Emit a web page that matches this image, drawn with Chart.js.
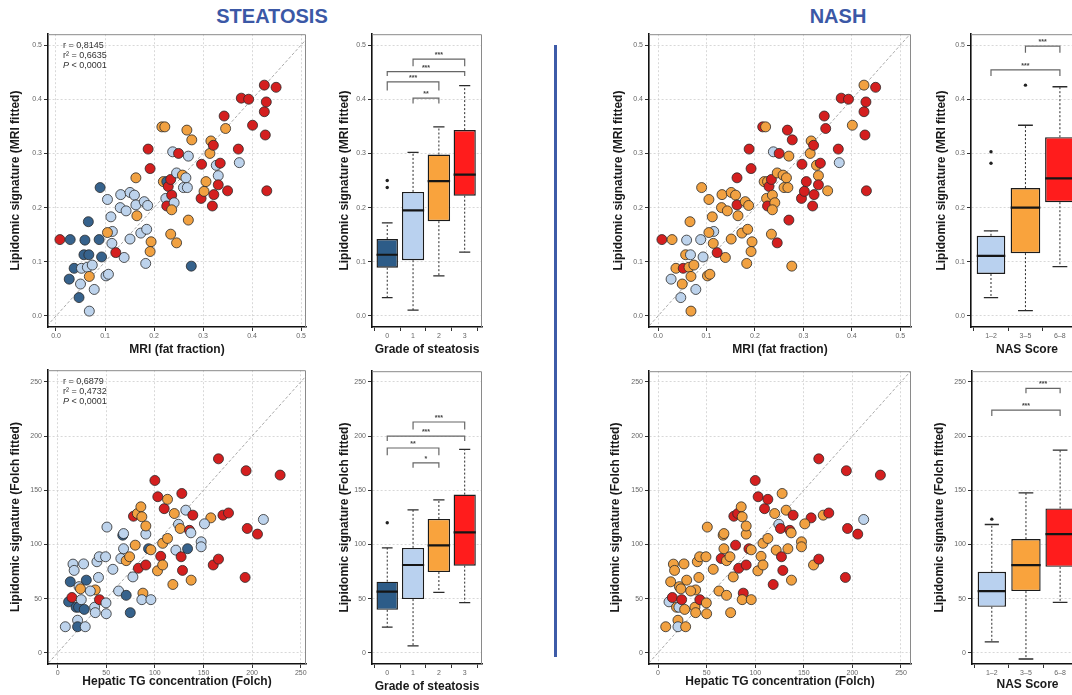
<!DOCTYPE html>
<html><head><meta charset="utf-8">
<script src="https://cdn.jsdelivr.net/npm/chart.js@4/dist/chart.umd.min.js"></script>
<style>
html,body{margin:0;padding:0;background:#fff;width:1072px;height:695px;overflow:hidden;position:relative;font-family:"Liberation Sans",Arial,sans-serif}
canvas{position:absolute}
.ttl{position:absolute;top:5px;font:bold 20px "Liberation Sans Narrow","Liberation Sans",Arial,sans-serif;color:#3b58a6;transform:translateX(-50%);white-space:nowrap}
#divider{position:absolute;left:554px;top:45px;width:2.5px;height:612px;background:#3d5ba8}
</style></head><body>
<div class="ttl" style="left:272px">STEATOSIS</div>
<div class="ttl" style="left:838px">NASH</div>
<div id="divider"></div>
<script>
// ---------- data: MRI fat fraction vs lipidomic signature ----------
const mriX=[0.008,0.029,0.059,0.088,0.066,0.090,0.057,0.067,0.093,0.037, 0.027,0.047,0.052,0.064,0.074,0.068,0.050,0.078,0.068,0.102, 0.107,0.139,0.122,0.114,0.115,0.105,0.112,0.105,0.131,0.143, 0.132,0.151,0.160,0.163,0.165,0.163,0.151,0.173,0.185,0.180, 0.187,0.183,0.194,0.192,0.188,0.192,0.216,0.222,0.219,0.226, 0.229,0.224,0.226,0.236,0.241,0.236,0.234,0.246,0.234,0.238, 0.250,0.246,0.258,0.265,0.260,0.268,0.267,0.277,0.270,0.270, 0.276,0.297,0.296,0.302,0.306,0.314,0.316,0.321,0.319,0.322, 0.327,0.331,0.331,0.335,0.343,0.346,0.350,0.372,0.374,0.378, 0.393,0.401,0.425,0.425,0.449,0.429,0.427,0.430];
const mriY=[0.141,0.141,0.140,0.141,0.174,0.237,0.113,0.113,0.109,0.088, 0.068,0.034,0.088,0.090,0.094,0.073,0.059,0.049,0.009,0.074, 0.077,0.108,0.117,0.134,0.156,0.154,0.183,0.215,0.200,0.194, 0.224,0.228,0.223,0.205,0.185,0.255,0.142,0.153,0.160,0.211, 0.204,0.097,0.137,0.119,0.308,0.272,0.349,0.349,0.248,0.248, 0.239,0.217,0.203,0.223,0.209,0.196,0.151,0.135,0.252,0.303, 0.300,0.264,0.260,0.255,0.237,0.237,0.343,0.325,0.295,0.177, 0.092,0.280,0.217,0.230,0.248,0.300,0.323,0.315,0.203,0.224, 0.278,0.259,0.242,0.282,0.369,0.346,0.231,0.308,0.283,0.402, 0.400,0.352,0.377,0.426,0.422,0.395,0.334,0.231];
const mriGrade=[3,0,0,0,0,0,0,0,0,0, 0,0,1,1,1,2,1,1,1,1, 1,1,3,1,1,2,1,1,1,1, 1,1,1,1,2,2,1,1,1,1, 1,1,2,2,3,3,2,2,2,0, 3,1,3,3,1,2,2,2,3,1, 3,1,2,1,1,1,2,2,1,2, 0,3,3,2,2,2,2,3,3,3, 1,1,3,3,3,2,3,3,1,3, 3,3,3,3,3,3,3,3];
const mriNas=[2,1,0,0,1,1,1,0,0,1, 0,0,2,1,1,1,1,0,1,1, 1,1,2,1,0,1,1,1,1,1, 1,1,1,2,1,2,1,1,1,1, 1,1,1,1,2,2,2,1,1,1, 2,1,2,1,1,1,1,2,2,0, 2,1,1,1,1,1,2,2,1,2, 1,2,2,2,2,1,1,2,2,2, 1,1,2,2,2,2,1,2,0,2, 2,1,2,1,2,2,2,2];

// ---------- data: hepatic TG (Folch) vs lipidomic signature ----------
const tgX=[7.9,11.3,13,15.8,17,14.7,19,21.5,20.5,20.5, 22,23.5,24.3,27.4,26.7,29.5,28.4,38.7,33.6,38, 38.7,43,40.4,42.8,42,49.7,50,49.3,50.7,56.8, 62.7,65,67,67.8,67.8,70.5,70.5,74.7,77.4,74, 78,82,85.6,86.6,90.7,90.7,79.8,83,90.7,87.7, 86.6,95.9,93.5,95.9,100,103,109.6,113,120,108, 113,106,102.7,108,118.5,121.6,124.3,126,127.7,131.8, 127,128.4,135.6,137,139,137.3,133.6,147.6,147.6,157.5, 151,160,165.4,165.4,170,175.7,193.8,195,192.8,205.5, 211.6,228.8];
const tgY=[24,47,65.5,81.8,76,51,42,42,30,24, 61,59,49,40,82,67,24,58,57,42, 37,49,84,88.6,69.5,46,36,88.6,116,77, 57,87,108.5,110,96,85,53,37,70,88.6, 126,128.5,134.7,125.5,109.5,117,99.3,78,81,55, 49,49,96,95,159,144,133,141.6,128.5,101, 105.5,89,75.6,81,63,94.7,118.6,114.7,147,131.6, 88.6,76,113,110.7,127,67,96,102.4,97.8,124.5, 119,81,86.4,179,127,129,168,114.7,69.5,109.5, 123,164];
const tgGrade=[1,0,0,1,1,3,0,0,1,0, 1,2,1,0,1,0,1,2,1,1, 1,3,1,1,1,1,1,1,1,1, 1,1,0,1,1,2,0,0,1,2, 3,2,2,2,1,2,2,3,3,2, 1,1,0,2,3,3,3,2,2,2, 2,3,2,2,2,1,1,2,3,1, 3,3,3,1,3,2,0,1,1,2, 1,3,3,3,3,3,3,3,3,3, 1,3];
const tgNas=[1,0,1,1,1,2,1,0,1,0, 1,1,2,1,1,1,1,1,1,1, 1,2,1,1,1,1,1,1,1,1, 1,2,1,1,1,1,1,1,1,1, 2,2,1,1,1,1,2,2,2,2, 1,1,2,1,2,2,2,2,1,1, 1,1,1,1,2,1,0,2,1,1, 2,2,2,1,2,1,1,1,1,2, 1,1,2,2,1,2,2,2,2,2, 0,2];

const statsMri=['r = 0,8145','r\u00B2 = 0,6635','P < 0,0001'];
const statsTg=['r = 0,6879','r\u00B2 = 0,4732','P < 0,0001'];

// ---------- box plot summaries ----------
const gradeLabels=['0','1','2','3'];
const nasLabels=['1\u20132','3\u20135','6\u20138'];

const stMriQ1=[0.089,0.103,0.175,0.222], stMriMed=[0.113,0.195,0.249,0.261], stMriQ3=[0.142,0.229,0.298,0.343];
const stMriLo=[0.034,0.011,0.074,0.118], stMriHi=[0.172,0.302,0.349,0.425];
const stMriOutX=[0,0], stMriOutY=[0.250,0.237];
const stMriBrFrom=[1,0,0,1], stMriBrTo=[2,2,3,3], stMriBrTop=[0.402,0.432,0.451,0.474], stMriBrDrop=[0.392,0.416,0.443,0.461], stMriBrLab=['**','***','***','***'];

const stTgQ1=[39.6,49.5,74.5,80.4], stTgMed=[56.4,81,99.2,111.2], stTgQ3=[65.6,96.8,123.5,146];
const stTgLo=[23.7,6.3,55.7,46.2], stTgHi=[96.8,131.8,141.2,187.7];
const stTgOutX=[0], stTgOutY=[120];
const stTgBrFrom=[1,0,0,1], stTgBrTo=[2,2,3,3], stTgBrTop=[175.3,189,200,213], stTgBrDrop=[170.7,182.4,195.4,206], stTgBrLab=['*','**','***','***'];

const nasMriQ1=[0.0775,0.116,0.210], nasMriMed=[0.111,0.200,0.254], nasMriQ3=[0.148,0.236,0.330];
const nasMriLo=[0.034,0.010,0.091], nasMriHi=[0.157,0.352,0.423];
const nasMriOutX=[0,0,1], nasMriOutY=[0.303,0.282,0.426];
const nasMriBrFrom=[0,1], nasMriBrTo=[2,2], nasMriBrTop=[0.454,0.498], nasMriBrDrop=[0.443,0.486], nasMriBrLab=['***','***'];

const nasTgQ1=[42.4,56.9,79.3], nasTgMed=[56.9,80.9,109.5], nasTgQ3=[74.7,104.9,133.2];
const nasTgLo=[10.1,-5.8,46.5], nasTgHi=[118.4,147.5,187];
const nasTgOutX=[0], nasTgOutY=[123.3];
const nasTgBrFrom=[0,1], nasTgBrTo=[2,2], nasTgBrTop=[224,244], nasTgBrDrop=[218.5,239.5], nasTgBrLab=['***','***'];

const fracTicks=[0,0.1,0.2,0.3,0.4,0.5];
const tgTicks=[0,50,100,150,200,250];

// ---------- styles ----------
const gradePtColors=['#36628c','#bdd3ec','#f1a141','#d41f1f'];
const nasPtColors=['#bdd3ec','#f1a141','#d41f1f'];
const gradeBoxColors=['#2d5c88','#b9d1ef','#f9a33d','#ff1c1c'];
const nasBoxColors=['#b9d1ef','#f9a33d','#ff1c1c'];
const FONT='"Liberation Sans", Arial, sans-serif';

function scatterSets(xs,ys,groups,colors,dmin,dmax){
  return [
    {type:'scatter',data:xs.map((x,i)=>({x:x,y:ys[i]})),backgroundColor:groups.map(g=>colors[g]),
     borderColor:'#2a2a2a',borderWidth:0.8,pointRadius:5,pointHoverRadius:5,order:0},
    {type:'line',data:[{x:dmin,y:dmin},{x:dmax,y:dmax}],borderColor:'#a0a0a0',borderWidth:0.9,
     borderDash:[3,2],pointRadius:0,order:10}
  ];
}

function boxSets(q1,med,q3,lo,hi,widths,colors,outX,outY,bf,bt,btop,bdrop){
  const sets=[];
  q1.forEach((v,i)=>{
    sets.push({type:'bar',data:[{x:i,y:[q1[i],q3[i]]}],backgroundColor:colors[i],borderColor:'#1c1c1c',
      borderWidth:1.4,borderSkipped:false,grouped:false,barPercentage:widths[i],categoryPercentage:1,order:5});
  });
  const wh=[],caps=[],meds=[],br=[];
  q1.forEach((v,i)=>{
    const hw=widths[i]/2, cw=hw*0.5;
    wh.push({x:i,y:q3[i]},{x:i,y:hi[i]},{x:i,y:null},{x:i,y:q1[i]},{x:i,y:lo[i]},{x:i,y:null});
    caps.push({x:i-cw,y:hi[i]},{x:i+cw,y:hi[i]},{x:i,y:null},{x:i-cw,y:lo[i]},{x:i+cw,y:lo[i]},{x:i,y:null});
    meds.push({x:i-hw,y:med[i]},{x:i+hw,y:med[i]},{x:i,y:null});
  });
  bf.forEach((f,i)=>{
    br.push({x:f,y:bdrop[i]},{x:f,y:btop[i]},{x:bt[i],y:btop[i]},{x:bt[i],y:bdrop[i]},{x:f,y:null});
  });
  const ln=(data,color,w,dash,order)=>({type:'line',data:data,borderColor:color,borderWidth:w,borderDash:dash,
    pointRadius:0,spanGaps:false,fill:false,tension:0,order:order});
  sets.push(ln(wh,'#2a2a2a',1,[2,2],3));
  sets.push(ln(caps,'#2a2a2a',1.3,[],2));
  sets.push(ln(meds,'#151515',2.2,[],1));
  sets.push(ln(br,'#666',1.2,[],0));
  sets.push({type:'scatter',data:outX.map((x,i)=>({x:x,y:outY[i]})),backgroundColor:'#222',borderWidth:0,
    pointRadius:1.7,order:0});
  return sets;
}

function makePanel(p){
  const [al,at,ar,ab]=p.area;
  const cl=p.yT-10, ct=at-6, cr=ar+6, cb=Math.round(p.xT+7.2);
  const cv=document.createElement('canvas');
  cv.width=cr-cl; cv.height=cb-ct;
  cv.style.left=cl+'px'; cv.style.top=ct+'px';
  document.body.appendChild(cv);
  const W=al-cl, H=cb-ab;
  const deco={
    id:'deco',
    beforeDatasetsDraw(chart){
      const a=chart.chartArea,c=chart.ctx;
      c.save();c.strokeStyle='#8a8a8a';c.lineWidth=1;c.beginPath();
      c.moveTo(a.left,a.top+0.5);c.lineTo(a.right-0.5,a.top+0.5);c.lineTo(a.right-0.5,a.bottom);c.stroke();c.restore();
    },
    afterDatasetsDraw(chart){
      const a=chart.chartArea,c=chart.ctx,xs=chart.scales.x,ys=chart.scales.y;
      c.save();
      if(p.stats){
        c.fillStyle='#333';c.textBaseline='middle';c.textAlign='left';
        p.stats.forEach((s,i)=>{
          const y=a.top+11+i*10;let x=a.left+15;
          if(s.charAt(0)==='P'){
            c.font='italic 9px '+FONT;c.fillText('P',x,y);x+=c.measureText('P').width;
            c.font='9px '+FONT;c.fillText(s.slice(1),x,y);
          } else {c.font='9px '+FONT;c.fillText(s,x,y);}
        });
      }
      if(p.br){
        c.fillStyle='#444';c.font='bold 7px '+FONT;c.textAlign='center';c.textBaseline='bottom';
        p.br.lab.forEach((t,i)=>{
          c.fillText(t,xs.getPixelForValue((p.br.from[i]+p.br.to[i])/2),ys.getPixelForValue(p.br.top[i])-0.5);
        });
      }
      c.restore();
    }
  };
  const tickFont={size:7,family:FONT};
  return new Chart(cv,{
    type:p.type,
    data:{datasets:p.datasets},
    options:{
      responsive:false,animation:false,devicePixelRatio:1,
      layout:{padding:{left:0,top:6,right:6,bottom:0}},
      plugins:{legend:{display:false},tooltip:{enabled:false}},
      scales:{
        x:{type:'linear',min:p.xMin,max:p.xMax,offset:false,
          afterFit:s=>{s.height=H;},
          afterBuildTicks:s=>{s.ticks=p.xTicks.map(v=>({value:v}));},
          ticks:{font:tickFont,color:'#666',padding:1,maxRotation:0,autoSkip:false,callback:p.xFmt},
          grid:{display:true,drawOnChartArea:p.gridX,color:'#cfcfcf',lineWidth:0.8,tickLength:4,tickColor:'#333',tickWidth:1},
          border:{display:true,color:'#111',width:1.6,dash:[2,2]},
          title:{display:true,text:p.xTitle,font:{size:12,weight:'bold',family:FONT,lineHeight:1.2},color:'#1a1a1a',padding:0}
        },
        y:{type:'linear',min:p.yMin,max:p.yMax,
          afterFit:s=>{s.width=W;},
          afterBuildTicks:s=>{s.ticks=p.yTicks.map(v=>({value:v}));},
          ticks:{font:tickFont,color:'#666',padding:2,autoSkip:false,callback:p.yFmt},
          grid:{display:true,drawOnChartArea:true,color:'#cfcfcf',lineWidth:0.8,tickLength:4,tickColor:'#333',tickWidth:1},
          border:{display:true,color:'#111',width:1.6,dash:[2,2]},
          title:{display:true,text:p.yTitle,font:{size:12,weight:'bold',family:FONT,lineHeight:1.2},color:'#1a1a1a',padding:{top:2.8,bottom:0}}
        }
      }
    },
    plugins:[deco]
  });
}

const f1=v=>Number(v).toFixed(1), f0=v=>String(v);
const MRI_T='MRI (fat fraction)', MRI_Y='Lipidomic signature (MRI fitted)';
const TG_T='Hepatic TG concentration (Folch)', TG_Y='Lipidomic signature (Folch fitted)';

// STEATOSIS - MRI scatter
makePanel({type:'scatter',area:[48,34,306,327],yT:16,xT:350,xMin:-0.0163,xMax:0.510,yMin:-0.0203,yMax:0.520,
  xTicks:fracTicks,yTicks:fracTicks,xFmt:f1,yFmt:f1,gridX:true,xTitle:MRI_T,yTitle:MRI_Y,stats:statsMri,
  datasets:scatterSets(mriX,mriY,mriGrade,gradePtColors,-0.1,0.6)});
// STEATOSIS - MRI box
makePanel({type:'bar',area:[372,34,482,327],yT:345,xT:350,xMin:-0.59,xMax:3.67,yMin:-0.0203,yMax:0.520,
  xTicks:[0,1,2,3],yTicks:fracTicks,xFmt:v=>gradeLabels[Math.round(v)],yFmt:f1,gridX:false,
  xTitle:'Grade of steatosis',yTitle:MRI_Y,
  br:{from:stMriBrFrom,to:stMriBrTo,top:stMriBrTop,lab:stMriBrLab},
  datasets:boxSets(stMriQ1,stMriMed,stMriQ3,stMriLo,stMriHi,[0.83,0.86,0.87,0.86],gradeBoxColors,stMriOutX,stMriOutY,stMriBrFrom,stMriBrTo,stMriBrTop,stMriBrDrop)});
// STEATOSIS - TG scatter
makePanel({type:'scatter',area:[48,370,306,664],yT:16,xT:682,xMin:-9.9,xMax:255.4,yMin:-10.4,yMax:260.8,
  xTicks:tgTicks,yTicks:tgTicks,xFmt:f0,yFmt:f0,gridX:true,xTitle:TG_T,yTitle:TG_Y,stats:statsTg,
  datasets:scatterSets(tgX,tgY,tgGrade,gradePtColors,-30,300)});
// STEATOSIS - TG box
makePanel({type:'bar',area:[372,371,482,664],yT:345,xT:687,xMin:-0.59,xMax:3.67,yMin:-10.4,yMax:259.9,
  xTicks:[0,1,2,3],yTicks:tgTicks,xFmt:v=>gradeLabels[Math.round(v)],yFmt:f0,gridX:false,
  xTitle:'Grade of steatosis',yTitle:TG_Y,
  br:{from:stTgBrFrom,to:stTgBrTo,top:stTgBrTop,lab:stTgBrLab},
  datasets:boxSets(stTgQ1,stTgMed,stTgQ3,stTgLo,stTgHi,[0.83,0.86,0.87,0.86],gradeBoxColors,stTgOutX,stTgOutY,stTgBrFrom,stTgBrTo,stTgBrTop,stTgBrDrop)});
// NASH - MRI scatter
makePanel({type:'scatter',area:[649,34,911,327],yT:619,xT:350,xMin:-0.0186,xMax:0.522,yMin:-0.0203,yMax:0.520,
  xTicks:fracTicks,yTicks:fracTicks,xFmt:f1,yFmt:f1,gridX:true,xTitle:MRI_T,yTitle:MRI_Y,
  datasets:scatterSets(mriX,mriY,mriNas,nasPtColors,-0.1,0.6)});
// NASH - MRI box
makePanel({type:'bar',area:[971,34,1083,327],yT:942,xT:350,xMin:-0.58,xMax:2.67,yMin:-0.0203,yMax:0.520,
  xTicks:[0,1,2],yTicks:fracTicks,xFmt:v=>nasLabels[Math.round(v)],yFmt:f1,gridX:false,
  xTitle:'NAS Score',yTitle:MRI_Y,
  br:{from:nasMriBrFrom,to:nasMriBrTo,top:nasMriBrTop,lab:nasMriBrLab},
  datasets:boxSets(nasMriQ1,nasMriMed,nasMriQ3,nasMriLo,nasMriHi,[0.83,0.86,0.86],nasBoxColors,nasMriOutX,nasMriOutY,nasMriBrFrom,nasMriBrTo,nasMriBrTop,nasMriBrDrop)});
// NASH - TG scatter
makePanel({type:'scatter',area:[649,371,911,664],yT:616,xT:682,xMin:-9.3,xMax:260.3,yMin:-10.4,yMax:259.9,
  xTicks:tgTicks,yTicks:tgTicks,xFmt:f0,yFmt:f0,gridX:true,xTitle:TG_T,yTitle:TG_Y,
  datasets:scatterSets(tgX,tgY,tgNas,nasPtColors,-30,300)});
// NASH - TG box
makePanel({type:'bar',area:[972,371,1083,664],yT:940,xT:685,xMin:-0.58,xMax:2.67,yMin:-10.4,yMax:259.9,
  xTicks:[0,1,2],yTicks:tgTicks,xFmt:v=>nasLabels[Math.round(v)],yFmt:f0,gridX:false,
  xTitle:'NAS Score',yTitle:TG_Y,
  br:{from:nasTgBrFrom,to:nasTgBrTo,top:nasTgBrTop,lab:nasTgBrLab},
  datasets:boxSets(nasTgQ1,nasTgMed,nasTgQ3,nasTgLo,nasTgHi,[0.83,0.86,0.86],nasBoxColors,nasTgOutX,nasTgOutY,nasTgBrFrom,nasTgBrTo,nasTgBrTop,nasTgBrDrop)});
</script>
</body></html>
